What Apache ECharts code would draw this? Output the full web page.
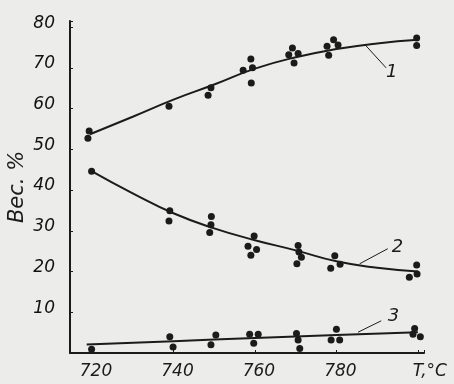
<!DOCTYPE html>
<html>
<head>
<meta charset="utf-8">
<script src="https://cdn.jsdelivr.net/npm/echarts@6/dist/echarts.min.js"></script>
<style>html,body{margin:0;padding:0;background:#ececea;}#c{width:454px;height:384px;}</style>
</head>
<body>
<div id="c"></div>
<script>
// Measured points (T, °C ; wt. %)
const curve1Points = [[719.3,54.5],[719,52.7],[738.9,60.6],[749.2,65.1],[748.5,63.3],[759,72.2],[757.1,69.4],[759.4,70],[759.1,66.3],[769.2,74.9],[768.3,73.2],[770.6,73.5],[769.6,71.2],[777.7,75.3],[779.3,76.9],[780.4,75.6],[778.1,73.1],[799.7,77.3],[799.7,75.5]];
const curve2Points = [[719.9,44.6],[739.1,34.9],[738.9,32.4],[749.3,33.5],[749.2,31.5],[748.9,29.6],[759.8,28.7],[758.3,26.2],[760.4,25.4],[759,24.0],[770.6,26.4],[770.8,24.8],[771.4,23.5],[770.3,21.9],[779.6,23.9],[780.9,21.8],[778.6,20.8],[799.7,21.6],[799.8,19.4],[797.9,18.6]];
const curve3Points = [[719.9,0.9],[739.1,4.0],[739.9,1.5],[750.4,4.4],[749.2,2.0],[758.7,4.6],[759.7,2.4],[760.8,4.6],[770.2,4.8],[770.6,3.2],[771,1.1],[780,5.8],[778.7,3.2],[780.8,3.2],[799.2,6.0],[798.8,4.6],[800.6,4.0]];
// Fitted curves
const curve1Line = [[719.5,53.7],[730,58],[740,62.2],[750,65.9],[760,69.8],[770,72.6],[780,74.6],[790,76],[800,76.9]];
const curve2Line = [[720,44.6],[730,39.2],[740,34.3],[750,30.6],[760,27.7],[770,25.2],[780,22.5],[790,20.9],[800,20.0]];
const curve3Line = [[718.7,2.1],[740,2.9],[760,3.7],[780,4.4],[800,5.1]];
// Curve labels and leader lines
const curveNames = ['1','2','3'];
const leaders = [[[787,75.7],[792.2,70.0]],[[785.7,21.9],[792.6,25.6]],[[785.3,5.1],[791,7.9]]];
const labelPos = [[793.6,69.0],[795.0,26.0],[794.0,8.9]];
const xTickLabels = {720:'720',740:'740',760:'760',780:'780',800:'T,°C'};
const yTicks = [10,20,30,40,50,60,70,80];

const ink = '#1b1b1b';
const font = '"DejaVu Sans", sans-serif';
const chart = echarts.init(document.getElementById('c'), null, {renderer:'canvas'});

function lineSeries(data, idx){
  return {
    type:'line', data:data, smooth:true, showSymbol:false, silent:true,
    lineStyle:{color:ink, width:2},
    markLine:{silent:true, symbol:'none', animation:false,
      lineStyle:{color:ink, width:1, type:'solid'}, label:{show:false},
      data:[[{coord:leaders[idx][0]},{coord:leaders[idx][1]}]]},
    markPoint:{silent:true, symbol:'circle', symbolSize:0, animation:false,
      label:{show:true, formatter:curveNames[idx], color:ink, fontSize:18, fontStyle:'italic', fontFamily:font},
      data:[{coord:labelPos[idx]}]}
  };
}
function scatterSeries(data){
  return {type:'scatter', data:data, symbolSize:7, silent:true, itemStyle:{color:ink, opacity:1}};
}

chart.setOption({
  animation:false,
  backgroundColor:'#ececea',
  grid:{left:70, right:30, top:21, bottom:31, outerBoundsMode:'none', containLabel:false},
  xAxis:{
    type:'value', min:714.6, max:801.5, splitNumber:5,
    axisLine:{lineStyle:{color:ink, width:2}},
    axisTick:{show:true, inside:true, length:3, lineStyle:{color:ink}},
    splitLine:{show:false},
    axisLabel:{color:ink, fontSize:17, fontStyle:'italic', fontFamily:font, margin:10, padding:[0,0,0,8],
      formatter:function(v){const k=Math.round(v); if(Math.abs(v-k)>1e-6) return ''; const s=xTickLabels[k]; if(!s) return ''; return k===800?'{t|'+s+'}':s;},
      rich:{t:{fontSize:17, fontStyle:'italic', fontFamily:font, color:ink, padding:[0,0,0,16]}}}
  },
  yAxis:{
    type:'value', min:0, max:81.5, interval:10,
    name:'Вес. %', nameLocation:'middle', nameGap:42, nameRotate:90, nameMoveOverlap:false,
    nameTextStyle:{color:ink, fontSize:21, fontStyle:'italic', fontFamily:font},
    axisLine:{show:true, lineStyle:{color:ink, width:2}},
    axisTick:{show:true, inside:true, length:3, lineStyle:{color:ink}},
    splitLine:{show:false},
    axisLabel:{color:ink, fontSize:17, fontStyle:'italic', fontFamily:font, margin:15,
      formatter:function(v){return yTicks.indexOf(v)>=0 ? '{a|'+v+'}' : '';},
      rich:{a:{fontSize:17, fontStyle:'italic', fontFamily:font, color:'#111', padding:[0,0,8,0]}}}
  },
  series:[
    lineSeries(curve1Line,0), lineSeries(curve2Line,1), lineSeries(curve3Line,2),
    scatterSeries(curve1Points), scatterSeries(curve2Points), scatterSeries(curve3Points)
  ]
});
</script>
</body>
</html>
